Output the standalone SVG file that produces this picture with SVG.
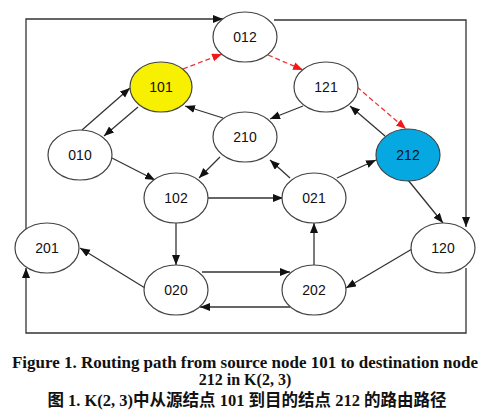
<svg xmlns="http://www.w3.org/2000/svg" width="487" height="419" viewBox="0 0 487 419">
<style>
.n ellipse{fill:#fff;stroke:#444;stroke-width:1.2}
.n text{font-family:"Liberation Sans",Arial,sans-serif;font-size:14px;fill:#111;text-anchor:middle}
.e{fill:none;stroke:#333;stroke-width:1.3;marker-end:url(#a)}
.r{fill:none;stroke:#f03030;stroke-width:1.3;stroke-dasharray:5,3;marker-end:url(#ar)}
.cap{font-family:"Liberation Serif","Times New Roman",serif;font-weight:bold;font-size:16px;fill:#111;text-anchor:middle}
.capc{font-family:"Liberation Serif","Noto Sans CJK SC",serif;font-weight:bold;font-size:16.5px;fill:#111;text-anchor:middle}
</style>
<defs>
<marker id="a" markerUnits="userSpaceOnUse" markerWidth="11" markerHeight="9" refX="10" refY="4" orient="auto"><path d="M0,0 L10,4 L0,8 z" fill="#111"/></marker>
<marker id="ar" markerUnits="userSpaceOnUse" markerWidth="11" markerHeight="9" refX="10" refY="4" orient="auto"><path d="M0,0 L10,4 L0,8 z" fill="#f01818"/></marker>
</defs>
<rect width="487" height="419" fill="#fff"/>
<g id="connectors">
<polyline class="e" points="26,229 26,19 223,19"/>
<polyline class="e" points="274,20 466,20 466,227"/>
<polyline class="e" points="466,268 466,333 26,333 26,268"/>
<line class="r" x1="183" y1="69" x2="222" y2="54"/>
<line class="r" x1="268" y1="55" x2="303" y2="70"/>
<line class="r" x1="357" y1="87" x2="406" y2="129"/>
<line class="e" x1="82" y1="130" x2="130" y2="88"/>
<line class="e" x1="138" y1="107" x2="104" y2="136"/>
<line class="e" x1="223" y1="118" x2="185" y2="106"/>
<line class="e" x1="303" y1="106" x2="270" y2="119"/>
<line class="e" x1="385" y1="136" x2="350" y2="106"/>
<line class="e" x1="337" y1="178" x2="376" y2="160"/>
<line class="e" x1="290" y1="178" x2="270" y2="160"/>
<line class="e" x1="220" y1="157" x2="199" y2="178"/>
<line class="e" x1="112" y1="158" x2="155" y2="180"/>
<line class="e" x1="208" y1="198" x2="283" y2="198"/>
<line class="e" x1="176" y1="223" x2="176" y2="265"/>
<line class="e" x1="408" y1="180" x2="443" y2="223"/>
<line class="e" x1="412" y1="249" x2="346" y2="288"/>
<line class="e" x1="314" y1="265" x2="314" y2="223"/>
<line class="e" x1="145" y1="288" x2="80" y2="248"/>
<line class="e" x1="202" y1="272" x2="290" y2="272"/>
<line class="e" x1="290" y1="307" x2="200" y2="307"/>
</g>
<g id="n012" class="n"><ellipse cx="245" cy="37" rx="32" ry="25"/><text x="245" y="42">012</text></g>
<g id="n101" class="n"><ellipse cx="161" cy="87" rx="31" ry="25" style="fill:#f7f000"/><text x="161" y="92">101</text></g>
<g id="n121" class="n"><ellipse cx="326" cy="87" rx="32" ry="25"/><text x="326" y="92">121</text></g>
<g id="n210" class="n"><ellipse cx="245" cy="137" rx="32" ry="25"/><text x="245" y="142">210</text></g>
<g id="n212" class="n"><ellipse cx="408" cy="155" rx="32" ry="26" style="fill:#06a8e2"/><text x="408" y="160">212</text></g>
<g id="n010" class="n"><ellipse cx="80" cy="155" rx="32" ry="25"/><text x="80" y="160">010</text></g>
<g id="n102" class="n"><ellipse cx="176" cy="198" rx="32" ry="25"/><text x="176" y="203">102</text></g>
<g id="n021" class="n"><ellipse cx="314" cy="198" rx="32" ry="25"/><text x="314" y="203">021</text></g>
<g id="n201" class="n"><ellipse cx="47" cy="248" rx="32" ry="25"/><text x="47" y="253">201</text></g>
<g id="n120" class="n"><ellipse cx="443" cy="248" rx="32" ry="25"/><text x="443" y="253">120</text></g>
<g id="n020" class="n"><ellipse cx="176" cy="290" rx="32" ry="25"/><text x="176" y="295">020</text></g>
<g id="n202" class="n"><ellipse cx="314" cy="290" rx="32" ry="25"/><text x="314" y="295">202</text></g>
<text class="cap" x="245" y="368" textLength="466" lengthAdjust="spacingAndGlyphs">Figure 1. Routing path from source node 101 to destination node</text>
<text class="cap" x="245" y="385">212 in K(2, 3)</text>
<text class="capc" x="247" y="406">图 1. K(2, 3)中从源结点 101 到目的结点 212 的路由路径</text>
</svg>
